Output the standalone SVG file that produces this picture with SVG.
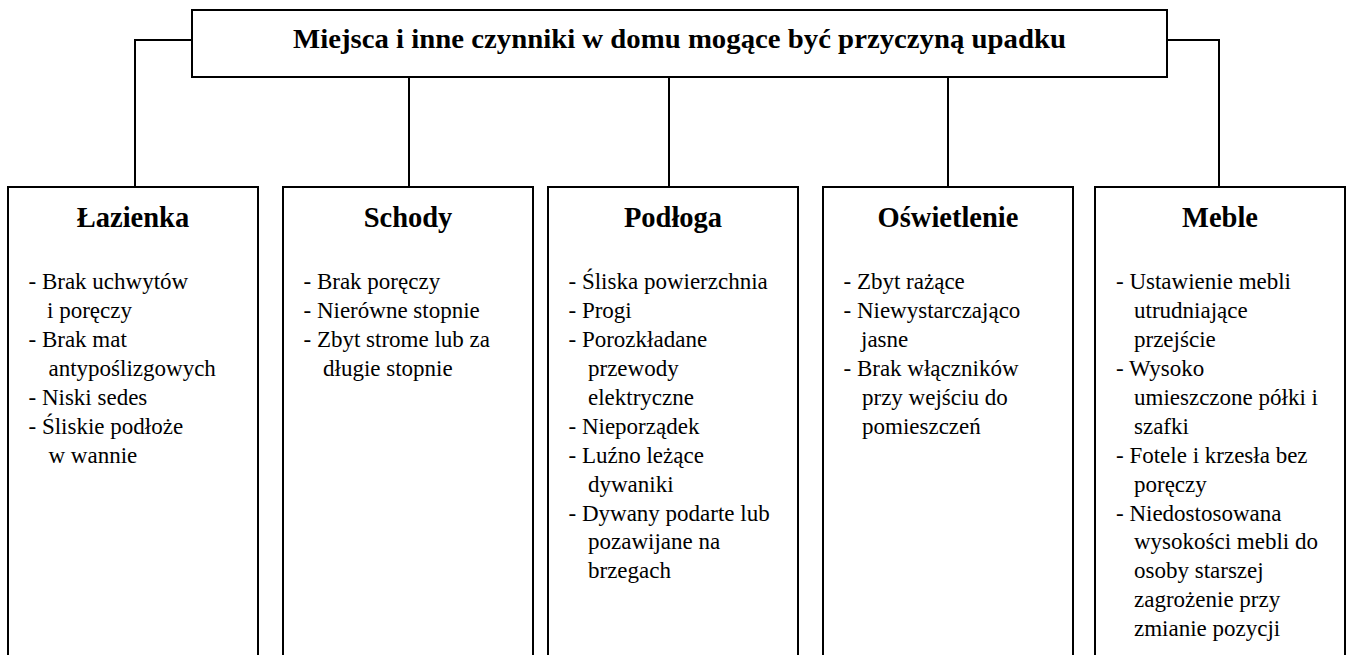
<svg xmlns="http://www.w3.org/2000/svg" width="1351" height="655" viewBox="0 0 1351 655">
<style>
.box{fill:#fff;stroke:#000;stroke-width:2}
.conn{fill:none;stroke:#000;stroke-width:2}
.title{font-family:"Liberation Serif","Times New Roman",serif;font-weight:bold;font-size:28px;fill:#000;text-anchor:middle}
.head{font-family:"Liberation Serif","Times New Roman",serif;font-weight:bold;font-size:28.5px;fill:#000;text-anchor:middle}
.item{font-family:"Liberation Serif","Times New Roman",serif;font-size:23px;fill:#000}
</style>
<rect width="1351" height="655" fill="#fff"/>
<g id="connectors">
<path class="conn" d="M192,40 H135 V187"/>
<path class="conn" d="M409,77 V187"/>
<path class="conn" d="M669,77 V187"/>
<path class="conn" d="M948,77 V187"/>
<path class="conn" d="M1167,40 H1219 V187"/>
</g>
<g id="title">
<rect class="box" x="192" y="10" width="975" height="67"/>
<text class="title" x="679.5" y="48" textLength="773" lengthAdjust="spacingAndGlyphs">Miejsca i inne czynniki w domu mogące być przyczyną upadku</text>
</g>
<g id="lazienka">
<rect class="box" x="8" y="187" width="250" height="475"/>
<text class="head" x="133" y="227">Łazienka</text>
<text class="item" x="28.5" y="289.3">- Brak uchwytów</text>
<text class="item" x="47" y="318.2">i poręczy</text>
<text class="item" x="28.5" y="347.1">- Brak mat</text>
<text class="item" x="48.5" y="376">antypoślizgowych</text>
<text class="item" x="28.5" y="404.9">- Niski sedes</text>
<text class="item" x="28.5" y="433.8">- Śliskie podłoże</text>
<text class="item" x="48.5" y="462.7">w wannie</text>
</g>
<g id="schody">
<rect class="box" x="283" y="187" width="250" height="475"/>
<text class="head" x="408" y="227">Schody</text>
<text class="item" x="303.5" y="289.3">- Brak poręczy</text>
<text class="item" x="303.5" y="318.2">- Nierówne stopnie</text>
<text class="item" x="303.5" y="347.1">- Zbyt strome lub za</text>
<text class="item" x="323" y="376">długie stopnie</text>
</g>
<g id="podloga">
<rect class="box" x="548" y="187" width="250" height="475"/>
<text class="head" x="673" y="227">Podłoga</text>
<text class="item" x="568.5" y="289.3">- Śliska powierzchnia</text>
<text class="item" x="568.5" y="318.2">- Progi</text>
<text class="item" x="568.5" y="347.1">- Porozkładane</text>
<text class="item" x="588" y="376">przewody</text>
<text class="item" x="588" y="404.9">elektryczne</text>
<text class="item" x="568.5" y="433.8">- Nieporządek</text>
<text class="item" x="568.5" y="462.7">- Luźno leżące</text>
<text class="item" x="588" y="491.6">dywaniki</text>
<text class="item" x="568.5" y="520.5">- Dywany podarte lub</text>
<text class="item" x="588" y="549.4">pozawijane na</text>
<text class="item" x="588" y="578.3">brzegach</text>
</g>
<g id="oswietlenie">
<rect class="box" x="823" y="187" width="250" height="475"/>
<text class="head" x="948" y="227">Oświetlenie</text>
<text class="item" x="843.5" y="289.3">- Zbyt rażące</text>
<text class="item" x="843.5" y="318.2">- Niewystarczająco</text>
<text class="item" x="861" y="347.1">jasne</text>
<text class="item" x="843.5" y="376">- Brak włączników</text>
<text class="item" x="862" y="404.9">przy wejściu do</text>
<text class="item" x="862" y="433.8">pomieszczeń</text>
</g>
<g id="meble">
<rect class="box" x="1095" y="187" width="250" height="475"/>
<text class="head" x="1220" y="227">Meble</text>
<text class="item" x="1116" y="289.3">- Ustawienie mebli</text>
<text class="item" x="1134" y="318.2">utrudniające</text>
<text class="item" x="1134" y="347.1">przejście</text>
<text class="item" x="1116" y="376">- Wysoko</text>
<text class="item" x="1134" y="404.9">umieszczone półki i</text>
<text class="item" x="1134" y="433.8">szafki</text>
<text class="item" x="1116" y="462.7">- Fotele i krzesła bez</text>
<text class="item" x="1134" y="491.6">poręczy</text>
<text class="item" x="1116" y="520.5">- Niedostosowana</text>
<text class="item" x="1134" y="549.4">wysokości mebli do</text>
<text class="item" x="1134" y="578.3">osoby starszej</text>
<text class="item" x="1134" y="607.2">zagrożenie przy</text>
<text class="item" x="1134" y="636.1">zmianie pozycji</text>
</g>
</svg>
